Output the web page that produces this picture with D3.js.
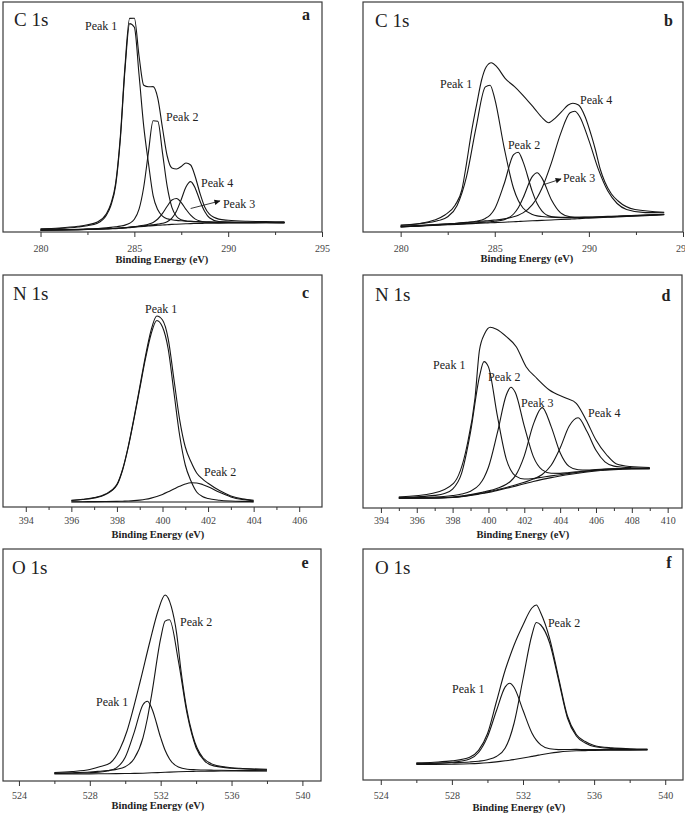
<!DOCTYPE html>
<html><head><meta charset="utf-8">
<script src="https://cdn.jsdelivr.net/npm/d3@7"></script>
<style>html,body{margin:0;padding:0;background:#fff}svg{display:block}
svg text{font-family:"Liberation Serif","Times New Roman",Times,serif}</style>
</head><body>
<svg id="chart" width="685" height="814"></svg>
<script>
// ---------------- DATA (intensities in arbitrary units) ----------------
const coreLevels = ["C 1s", "C 1s", "N 1s", "N 1s", "O 1s", "O 1s"];
const panelLetters = ["a", "b", "c", "d", "e", "f"];
const axisTitle = "Binding Energy (eV)";

const c1sTicks = [280, 285, 290, 295];
const c1sMinorTicks = [282.5, 287.5, 292.5];
const n1sTicksC = [394, 396, 398, 400, 402, 404, 406];
const n1sMinorTicksC = [395, 397, 399, 401, 403, 405];
const n1sTicksD = [394, 396, 398, 400, 402, 404, 406, 408, 410];
const n1sMinorTicksD = [395, 397, 399, 401, 403, 405, 407, 409];
const o1sTicks = [524, 528, 532, 536, 540];
const o1sMinorTicks = [526, 530, 534, 538];

// Panel a : C 1s
const energyA = [280, 281, 282, 282.5, 283, 283.5, 283.75, 284, 284.25, 284.5, 284.75, 285, 285.25, 285.5, 285.75, 286, 286.25, 286.5, 286.75, 287, 287.25, 287.5, 287.75, 288, 288.25, 288.5, 288.75, 289, 289.5, 290, 291, 292, 293];
const backgroundA = [1.8, 2.0, 2.3, 2.5, 2.7, 3.0, 3.2, 3.4, 3.7, 4.0, 4.4, 4.8, 5.2, 5.6, 6.0, 6.4, 6.7, 7.0, 7.3, 7.6, 7.8, 8.0, 8.2, 8.4, 8.5, 8.6, 8.7, 8.8, 8.9, 9.0, 9.1, 9.2, 9.2];
const peak1A = [2.8, 3.5, 5.0, 6.3, 8.5, 16.5, 26.5, 46.0, 92.0, 162.0, 208.4, 204.8, 157.2, 105.6, 69.0, 36.4, 22.2, 15.8, 13.2, 12.3, 11.6, 11.2, 10.9, 10.6, 10.4, 10.3, 10.2, 10.1, 10.0, 9.9, 9.7, 9.7, 9.6];
const peak2A = [2.0, 2.3, 2.8, 3.1, 3.5, 4.1, 4.6, 5.2, 5.9, 6.9, 8.7, 12.7, 22.8, 45.0, 79.7, 111.3, 110.7, 79.2, 45.6, 24.7, 15.5, 12.2, 11.0, 10.6, 10.3, 10.0, 9.8, 9.8, 9.6, 9.5, 9.45, 9.45, 9.4];
const peak3A = [1.9, 2.1, 2.4, 2.65, 2.9, 3.2, 3.45, 3.7, 4.05, 4.4, 4.9, 5.4, 5.95, 6.7, 7.8, 9.6, 13.0, 18.6, 25.7, 32.0, 33.5, 29.4, 22.7, 16.8, 12.9, 10.9, 10.0, 9.7, 9.4, 9.4, 9.3, 9.35, 9.3];
const peak4A = [1.9, 2.1, 2.4, 2.6, 2.85, 3.2, 3.4, 3.6, 4.0, 4.3, 4.8, 5.2, 5.7, 6.2, 6.7, 7.3, 7.9, 8.7, 10.3, 13.9, 21.1, 32.5, 45.0, 50.4, 43.6, 31.0, 20.5, 14.3, 10.5, 9.9, 9.5, 9.45, 9.35];
const envelopeA = [3.2, 4.0, 5.7, 7.2, 9.7, 18.0, 28.4, 48.3, 94.8, 165.6, 213.6, 213.7, 176.0, 146.7, 145.2, 145.4, 133.7, 104.0, 76.0, 64.0, 63.0, 65.5, 69.0, 67.0, 55.0, 38.5, 25.0, 17.8, 12.9, 11.7, 10.7, 10.4, 10.1];

// Panel b : C 1s
const energyB = [280, 281, 282, 282.5, 283, 283.5, 284, 284.5, 284.75, 285, 285.5, 286, 286.25, 286.5, 287, 287.25, 287.5, 288, 288.5, 289, 289.25, 289.5, 290, 290.5, 291, 291.5, 292, 293, 294];
const backgroundB = [5.0, 5.9, 6.8, 7.2, 7.6, 8.1, 8.5, 9.0, 9.2, 9.4, 9.8, 10.3, 10.5, 10.7, 11.2, 11.4, 11.6, 12.0, 12.5, 12.9, 13.1, 13.4, 13.8, 14.2, 14.7, 15.1, 15.6, 16.4, 17.3];
const peak1B = [6.5, 8.3, 11.4, 15.3, 26.6, 55.4, 103.9, 145.1, 146.8, 133.2, 84.2, 43.5, 31.4, 24.0, 17.5, 16.1, 15.5, 14.8, 14.7, 14.6, 14.6, 14.8, 14.9, 15.2, 15.6, 15.9, 16.3, 17.0, 17.8];
const peak2B = [5.3, 6.3, 7.4, 8.0, 8.65, 9.6, 10.7, 13.6, 16.9, 23.3, 48.2, 77.4, 79.8, 70.4, 40.1, 28.4, 21.2, 15.4, 14.4, 14.2, 14.2, 14.4, 14.5, 14.8, 15.2, 15.55, 16.0, 16.7, 17.55];
const peak3B = [5.1, 6.1, 7.1, 7.5, 8.0, 8.6, 9.2, 9.9, 10.3, 10.7, 12.3, 18.0, 24.2, 33.9, 55.6, 59.3, 54.1, 32.6, 19.2, 15.2, 14.7, 14.65, 14.7, 14.85, 15.2, 15.5, 15.9, 16.6, 17.5];
const peak4B = [5.6, 6.6, 7.7, 8.25, 8.8, 9.55, 10.2, 11.1, 11.5, 12.0, 13.1, 15.2, 16.8, 19.1, 27.4, 34.2, 43.4, 68.6, 98.4, 119.2, 120.8, 115.8, 91.6, 62.9, 41.2, 28.5, 22.6, 19.4, 19.3];
const envelopeEnergyB = [280, 281.1, 281.8, 282.35, 282.9, 283.25, 283.5, 283.75, 284.05, 284.3, 284.55, 284.82, 285.1, 285.55, 286.05, 286.4, 287.1, 287.55, 287.87, 288.2, 288.55, 288.9, 289.15, 289.45, 289.8, 290.15, 290.35, 290.6, 290.85, 291.2, 291.55, 292.45, 294];
const envelopeB = [7.0, 8.7, 12, 17, 27, 42, 68.7, 98.7, 128.7, 152, 165.3, 169.3, 165.3, 153.7, 145.3, 138.7, 123.7, 113.7, 109.3, 113.7, 120.3, 127, 128.7, 127, 115.3, 95.3, 82, 63, 50, 38, 31, 22.5, 19.8];

// Panel c : N 1s
const energyC = [396, 396.5, 397, 397.5, 398, 398.25, 398.5, 398.75, 399, 399.25, 399.5, 399.75, 400, 400.25, 400.5, 400.75, 401, 401.25, 401.5, 401.75, 402, 402.5, 403, 403.5, 404];
const backgroundC = [5.0, 5.0, 5.0, 5.0, 5.0, 5.0, 5.0, 5.0, 5.0, 5.0, 5.0, 5.0, 5.0, 5.0, 5.0, 5.0, 5.0, 5.0, 5.0, 5.0, 5.0, 5.0, 5.0, 5.0, 5.0];
const peak1C = [6.5, 7.5, 9.0, 12.5, 22, 37, 60, 88, 118, 148, 173, 186.5, 180, 158, 115, 72, 42, 26, 15, 10.5, 8.5, 6.8, 6.0, 5.6, 5.4];
const peak2C = [5.25, 5.3, 5.4, 5.5, 5.6, 5.8, 6.0, 6.35, 6.9, 7.7, 8.9, 10.5, 12.6, 15.2, 18.0, 20.7, 23.0, 24.2, 24.0, 22.6, 20.2, 14.65, 10.1, 7.5, 6.3];
const envelopeC = [6.75, 7.8, 9.4, 13.0, 22.6, 37.8, 61.0, 89.35, 119.9, 150.7, 176.9, 191.0, 187.0, 168.2, 128.0, 87.7, 60.0, 45.2, 34.0, 28.1, 23.7, 16.45, 11.1, 8.1, 6.7];

// Panel d : N 1s
const energyD = [395, 396, 397, 397.5, 398, 398.5, 399, 399.5, 399.75, 400, 400.5, 401, 401.25, 401.5, 402, 402.5, 403, 403.5, 404, 404.5, 405, 405.5, 406, 406.5, 407, 407.5, 408, 409];
const backgroundD = [9.7, 9.7, 9.8, 10.0, 10.5, 11.3, 12.5, 14.0, 14.8, 15.6, 17.6, 19.7, 20.8, 21.9, 24.2, 26.5, 28.6, 30.4, 32.0, 33.5, 34.8, 36.0, 37.0, 37.8, 38.4, 38.8, 39.0, 39.1];
const peak1D = [10.7, 11.3, 12.6, 14.2, 18.9, 34.7, 75.9, 131.6, 146.4, 141.1, 91.8, 48.7, 37.7, 32.1, 29.0, 29.5, 30.8, 32.1, 33.3, 34.6, 35.7, 36.8, 37.7, 38.4, 38.9, 39.25, 39.4, 39.45];
const peak2D = [10.25, 10.5, 10.95, 11.5, 12.45, 13.95, 16.8, 23.5, 30.3, 40.7, 75.3, 113.2, 120.8, 115.4, 81.9, 51.6, 38.1, 34.7, 34.65, 35.45, 36.3, 37.15, 37.9, 38.6, 39.1, 39.4, 39.55, 39.55];
const peak3D = [9.9, 10.0, 10.2, 10.45, 11.05, 12.0, 13.35, 15.1, 16.1, 17.1, 19.8, 23.7, 27.0, 32.1, 52.1, 83.4, 100.4, 81.4, 55.3, 41.6, 38.2, 37.95, 38.4, 38.85, 39.2, 39.45, 39.55, 39.5];
const peak4D = [9.85, 9.9, 10.0, 10.25, 10.8, 11.6, 12.9, 14.45, 15.3, 16.15, 18.3, 20.55, 21.8, 23.0, 25.7, 28.9, 33.5, 42.7, 60.0, 81.7, 90.2, 76.4, 57.7, 46.2, 41.9, 40.8, 40.3, 39.9];
const envelopeEnergyD = [395, 396.9, 398.05, 398.8, 399.25, 399.5, 399.8, 400.1, 400.45, 401.0, 401.55, 402.1, 402.7, 403.4, 404.35, 404.9, 405.45, 406.0, 406.6, 407.15, 407.9, 409];
const envelopeD = [11.0, 14.7, 24.7, 62, 110, 158, 174.7, 180.7, 178.7, 171.3, 161.3, 141.3, 129.7, 118, 109.7, 104.7, 88, 68, 53, 44, 41.5, 40.5];

// Panel e : O 1s
const energyE = [526, 527, 528, 528.5, 529, 529.5, 530, 530.5, 531, 531.25, 531.5, 532, 532.25, 532.5, 533, 533.5, 534, 534.5, 535, 536, 537, 538];
const backgroundE = [7.0, 7.0, 7.1, 7.2, 7.3, 7.4, 7.5, 7.6, 7.8, 8.0, 8.2, 8.5, 8.7, 8.9, 9.2, 9.5, 9.7, 9.8, 9.9, 10.0, 10.0, 10.0];
const peak1E = [7.5, 7.7, 8.3, 8.9, 10.0, 13.1, 23.7, 48.4, 76.3, 79.8, 72.6, 43.3, 30.7, 22.0, 13.9, 11.8, 11.3, 10.95, 10.8, 10.55, 10.4, 10.3];
const peak2E = [7.9, 8.3, 9.0, 9.7, 10.5, 11.6, 14.3, 22.2, 43.2, 62.5, 87.4, 142.6, 159.9, 161.2, 120.1, 66.5, 33.3, 19.7, 15.1, 12.8, 11.7, 11.2];
const envelopeEnergyE = [526, 527, 528, 528.6, 529.15, 529.7, 530.1, 530.45, 530.85, 531.4, 531.85, 532.25, 532.6, 532.9, 533.15, 533.45, 533.8, 534.4, 535.15, 536.45, 538];
const envelopeE = [8.5, 9.5, 11.5, 14.5, 18, 32, 50, 72, 100, 140, 170, 186, 174.3, 147.7, 110, 74, 46, 23, 15.5, 12.7, 11.8];

// Panel f : O 1s
const energyF = [526, 527, 528, 529, 529.5, 530, 530.5, 531, 531.25, 531.5, 532, 532.5, 532.75, 533, 533.5, 534, 534.5, 535, 535.5, 536, 537, 538, 539];
const backgroundF = [15.5, 15.6, 15.8, 16.2, 16.6, 17.2, 18.1, 19.2, 19.8, 20.5, 22.0, 23.6, 24.4, 25.3, 26.8, 27.9, 28.7, 29.2, 29.4, 29.6, 29.8, 29.9, 30.0];
const peak1F = [16.2, 16.7, 17.7, 21.0, 27.5, 43.1, 69.0, 93.1, 96.7, 92.5, 69.7, 47.1, 39.8, 35.1, 31.2, 30.4, 30.5, 30.6, 30.5, 30.5, 30.4, 30.4, 30.4];
const peak2F = [16.4, 16.7, 17.2, 18.0, 18.8, 20.3, 23.5, 32, 42, 57, 101, 145, 157.5, 155, 137, 100, 62, 44, 37, 33.5, 31.5, 30.8, 30.5];
const envelopeF = [17.1, 17.8, 19.1, 22.8, 29.7, 46.2, 78, 110, 123, 135, 155, 172, 175, 167, 141.4, 102.5, 64, 45.5, 38.5, 34.5, 32.1, 31.3, 30.9];

const peakNames = ["Peak 1", "Peak 2", "Peak 3", "Peak 4"];

// ---------------- DRAWING ----------------
const FONT = '"Liberation Serif","Times New Roman",Times,serif';
const svg = d3.select("#chart");
svg.append("rect").attr("width", 685).attr("height", 814).attr("fill", "#fff");
const defs = svg.append("defs");
defs.append("marker").attr("id", "arrowhead").attr("viewBox", "0 0 10 10")
  .attr("refX", 9).attr("refY", 5).attr("markerWidth", 7).attr("markerHeight", 6)
  .attr("markerUnits", "userSpaceOnUse").attr("orient", "auto")
  .append("path").attr("d", "M0,0.5 L10,5 L0,9.5 Z").attr("fill", "#111");

const panels = [
  { frame: { x0: 3, x1: 322, y0: 2, y1: 232 }, domain: [278, 295], ticks: c1sTicks, minor: c1sMinorTicks,
    pad: 7.9, titleX: 162, titleDy: 30.5, nameX: 14, nameY: 26, letterX: 306, letterY: 20,
    curves: [[energyA, backgroundA], [energyA, peak1A], [energyA, peak2A], [energyA, peak3A], [energyA, peak4A], [energyA, envelopeA]],
    labels: [[0, 282.37, 202], [1, 286.69, 111], [3, 288.55, 45], [2, 289.72, 24]],
    arrows: [[288.0, 23.5, 289.56, 31]] },
  { frame: { x0: 363, x1: 683, y0: 2, y1: 232 }, domain: [278, 295], ticks: c1sTicks, minor: c1sMinorTicks,
    pad: 7.6, titleX: 527, titleDy: 30, nameX: 375, nameY: 26.7, letterX: 668.5, letterY: 26,
    curves: [[energyB, backgroundB], [energyB, peak1B], [energyB, peak2B], [energyB, peak3B], [energyB, peak4B], [envelopeEnergyB, envelopeB]],
    labels: [[0, 282.09, 144], [1, 285.70, 83], [2, 288.62, 50], [3, 289.53, 128]],
    arrows: [[287.62, 47.5, 288.52, 53]] },
  { frame: { x0: 3, x1: 322, y0: 275, y1: 507 }, domain: [393, 407], ticks: n1sTicksC, minor: n1sMinorTicksC,
    pad: 4.9, titleX: 158, titleDy: 31, nameX: 13, nameY: 300, letterX: 305.5, letterY: 298,
    curves: [[energyC, backgroundC], [energyC, peak1C], [energyC, peak2C], [energyC, envelopeC]],
    labels: [[0, 399.23, 194], [1, 401.82, 31.3]], arrows: [] },
  { frame: { x0: 363, x1: 682, y0: 275, y1: 508 }, domain: [393, 410.8], ticks: n1sTicksD, minor: n1sMinorTicksD,
    pad: 4.2, titleX: 523, titleDy: 30, nameX: 375, nameY: 300.5, letterX: 666, letterY: 300.5,
    curves: [[energyD, backgroundD], [energyD, peak1D], [energyD, peak2D], [energyD, peak3D], [energyD, peak4D], [envelopeEnergyD, envelopeD]],
    labels: [[0, 396.91, 139], [1, 399.98, 127.3], [2, 401.82, 101], [3, 405.56, 91]], arrows: [] },
  { frame: { x0: 3, x1: 321, y0: 549, y1: 781 }, domain: [523.1, 541.05], ticks: o1sTicks, minor: o1sMinorTicks,
    pad: 5.4, titleX: 158, titleDy: 27.5, nameX: 12, nameY: 574, letterX: 305, letterY: 567.5,
    curves: [[energyE, backgroundE], [energyE, peak1E], [energyE, peak2E], [envelopeEnergyE, envelopeE]],
    labels: [[0, 528.35, 75.3], [1, 533.09, 155.3]], arrows: [] },
  { frame: { x0: 363, x1: 683, y0: 549, y1: 780 }, domain: [523, 541], ticks: o1sTicks, minor: o1sMinorTicks,
    pad: 6.4, titleX: 519, titleDy: 30.5, nameX: 375, nameY: 574, letterX: 669, letterY: 567.5,
    curves: [[energyF, backgroundF], [energyF, peak1F], [energyF, peak2F], [energyF, envelopeF]],
    labels: [[0, 528.01, 87], [1, 533.4, 153]], arrows: [] }
];

panels.forEach((p, i) => {
  const f = p.frame;
  const g = svg.append("g");
  const x = d3.scaleLinear().domain(p.domain).range([f.x0, f.x1]);
  const y = d3.scaleLinear().domain([0, f.y1 - f.y0]).range([f.y1, f.y0]);
  const line = d3.line().x(d => x(d[0])).y(d => y(d[1])).curve(d3.curveMonotoneX);

  p.curves.forEach(c => {
    g.append("path").datum(d3.zip(c[0], c[1])).attr("d", line)
      .attr("fill", "none").attr("stroke", "#151515").attr("stroke-width", 1.1)
      .attr("stroke-linejoin", "round");
  });

  g.append("rect").attr("x", f.x0).attr("y", f.y0)
    .attr("width", f.x1 - f.x0).attr("height", f.y1 - f.y0)
    .attr("fill", "none").attr("stroke", "#3a3a3a").attr("stroke-width", 1.2);

  const ax = g.append("g").attr("transform", `translate(0,${f.y1})`)
    .call(d3.axisBottom(x).tickValues(p.ticks).tickSize(5).tickPadding(p.pad).tickFormat(d3.format("d")));
  ax.attr("font-family", null);
  ax.select(".domain").remove();
  ax.selectAll("line").attr("stroke", "#333").attr("stroke-width", 1);
  ax.selectAll("text").style("font-family", FONT).attr("font-size", 10).attr("fill", "#444");

  const mx = g.append("g").attr("transform", `translate(0,${f.y1})`)
    .call(d3.axisBottom(x).tickValues(p.minor).tickSize(3).tickFormat(""));
  mx.select(".domain").remove();
  mx.selectAll("line").attr("stroke", "#333").attr("stroke-width", 1);

  g.append("text").attr("x", p.titleX).attr("y", f.y1 + p.titleDy)
    .attr("text-anchor", "middle").style("font-family", FONT).attr("font-weight", "bold")
    .attr("font-size", 10.5).attr("fill", "#222").text(axisTitle);

  g.append("text").attr("x", p.nameX).attr("y", p.nameY)
    .style("font-family", FONT).attr("font-size", 19).attr("fill", "#222").text(coreLevels[i]);

  g.append("text").attr("x", p.letterX).attr("y", p.letterY).attr("text-anchor", "middle")
    .style("font-family", FONT).attr("font-weight", "bold").attr("font-size", 16).attr("fill", "#222")
    .text(panelLetters[i]);

  p.labels.forEach(l => {
    g.append("text").attr("x", x(l[1])).attr("y", y(l[2]))
      .style("font-family", FONT).attr("font-size", 12).attr("fill", "#222").text(peakNames[l[0]]);
  });

  p.arrows.forEach(a => {
    g.append("line").attr("x1", x(a[0])).attr("y1", y(a[1])).attr("x2", x(a[2])).attr("y2", y(a[3]))
      .attr("stroke", "#222").attr("stroke-width", 0.9).attr("marker-end", "url(#arrowhead)");
  });
});
</script>
</body></html>
